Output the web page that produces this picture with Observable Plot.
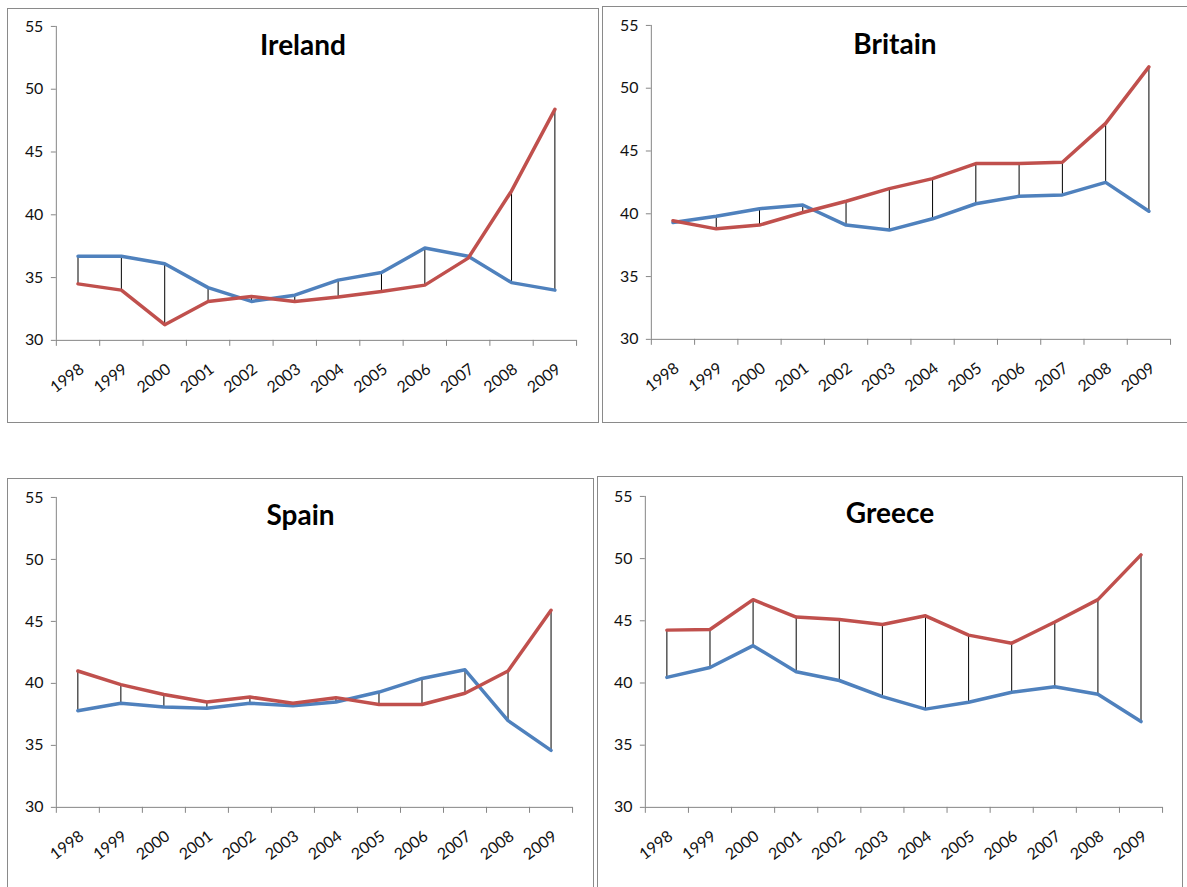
<!DOCTYPE html>
<html><head><meta charset="utf-8">
<script src="https://cdn.jsdelivr.net/npm/d3@7"></script>
<script src="https://cdn.jsdelivr.net/npm/@observablehq/plot@0.6"></script>
<style>
body{margin:0;background:#fff;font-family:Lato,"Open Sans",sans-serif;}
#wrap{position:relative;width:1187px;height:887px;overflow:hidden;background:#fff;}
.panel{position:absolute;border:1px solid #8a8a8a;background:#fff;box-sizing:border-box;}
.panel svg{position:absolute;left:-1px;top:-1px;}
.title{position:absolute;left:0;right:0;text-align:center;font-weight:bold;font-size:28px;color:#000;font-family:Lato,sans-serif;line-height:1;}
</style></head><body><div id="wrap"></div>
<script>
const years = [1998,1999,2000,2001,2002,2003,2004,2005,2006,2007,2008,2009];
const yTicks = [30,35,40,45,50,55];

const irelandBlue = [36.7,36.7,36.1,34.2,33.1,33.6,34.8,35.4,37.35,36.7,34.6,34.0];
const irelandRed  = [34.5,34.0,31.25,33.1,33.5,33.1,33.45,33.9,34.4,36.55,41.9,48.4];
const britainBlue = [39.3,39.8,40.4,40.7,39.1,38.7,39.6,40.8,41.4,41.5,42.5,40.2];
const britainRed  = [39.45,38.8,39.1,40.1,41.0,42.0,42.8,44.0,44.0,44.1,47.2,51.7];
const spainBlue   = [37.8,38.4,38.1,38.0,38.4,38.2,38.5,39.3,40.4,41.1,37.0,34.6];
const spainRed    = [41.0,39.9,39.1,38.5,38.9,38.4,38.85,38.3,38.3,39.2,41.0,45.9];
const greeceBlue  = [40.45,41.25,43.0,40.9,40.2,38.9,37.9,38.45,39.25,39.7,39.1,36.9];
const greeceRed   = [44.25,44.3,46.7,45.3,45.1,44.7,45.4,43.85,43.2,44.9,46.7,50.3];

const countries = ["Ireland","Britain","Spain","Greece"];
const blueSeries = [irelandBlue, britainBlue, spainBlue, greeceBlue];
const redSeries  = [irelandRed, britainRed, spainRed, greeceRed];

// layout (page px): frame [l,t,r,b], plot area [l,t,r,b], title cap-top y
const layout = [
  {frame:[7,8,599,423], plot:[56,26,578,341], titleTop:29},
  {frame:[602,6,1188,423], plot:[651,25,1172,340], titleTop:28},
  {frame:[7,478,594,900], plot:[56,497,574,808], titleTop:499},
  {frame:[597,476,1183,900], plot:[645,496,1164,808], titleTop:497}
];

const blue = "#4F81BD", red = "#C0504D", axisGray = "#868686";
const wrap = document.getElementById("wrap");

countries.forEach((name, k) => {
  const L = layout[k];
  const [fl, ft, fr, fb] = L.frame;
  const [pl, pt, pr, pb] = L.plot;
  const data = years.map((y, i) => ({year: y, blue: blueSeries[k][i], red: redSeries[k][i]}));
  const bounds = years.map(y => y - 0.5).concat([years[years.length - 1] + 0.5]);
  const div = document.createElement("div");
  div.className = "panel";
  div.style.left = fl + "px"; div.style.top = ft + "px";
  div.style.width = (fr - fl) + "px"; div.style.height = (fb - ft) + "px";
  const chart = Plot.plot({
    width: fr - fl, height: fb - ft,
    marginLeft: pl - fl, marginRight: fr - pr, marginTop: pt - ft, marginBottom: fb - pb,
    x: {type: "linear", domain: [bounds[0], bounds[bounds.length - 1]]},
    y: {domain: [30, 55]},
    style: {fontFamily: "Lato, sans-serif", fontSize: "16px", color: "#111", background: "transparent", overflow: "visible"},
    marks: [
      Plot.ruleX([bounds[0]], {stroke: axisGray}),
      Plot.ruleY([30], {stroke: axisGray}),
      Plot.axisY({ticks: yTicks, tickSize: 5, tickPadding: 8, stroke: axisGray, label: null, fontSize: 16, fill: "#111"}),
      Plot.axisX({ticks: bounds, tickSize: 6, tickFormat: () => "", stroke: axisGray, label: null}),
      Plot.axisX({ticks: years, tickSize: 0, tickPadding: 27, dx: 4, tickFormat: d => String(d), tickRotate: -37, label: null, fontSize: 16, fill: "#111"}),
      Plot.ruleX(data, {x: "year", y1: "blue", y2: "red", stroke: "#000", strokeWidth: 1}),
      Plot.line(data, {x: "year", y: "blue", stroke: blue, strokeWidth: 3.5}),
      Plot.line(data, {x: "year", y: "red", stroke: red, strokeWidth: 3.5})
    ]
  });
  div.appendChild(chart);
  const t = document.createElement("div");
  t.className = "title";
  t.textContent = name;
  t.style.top = (L.titleTop - ft) + "px";
  div.appendChild(t);
  wrap.appendChild(div);
});
</script>
</body></html>
